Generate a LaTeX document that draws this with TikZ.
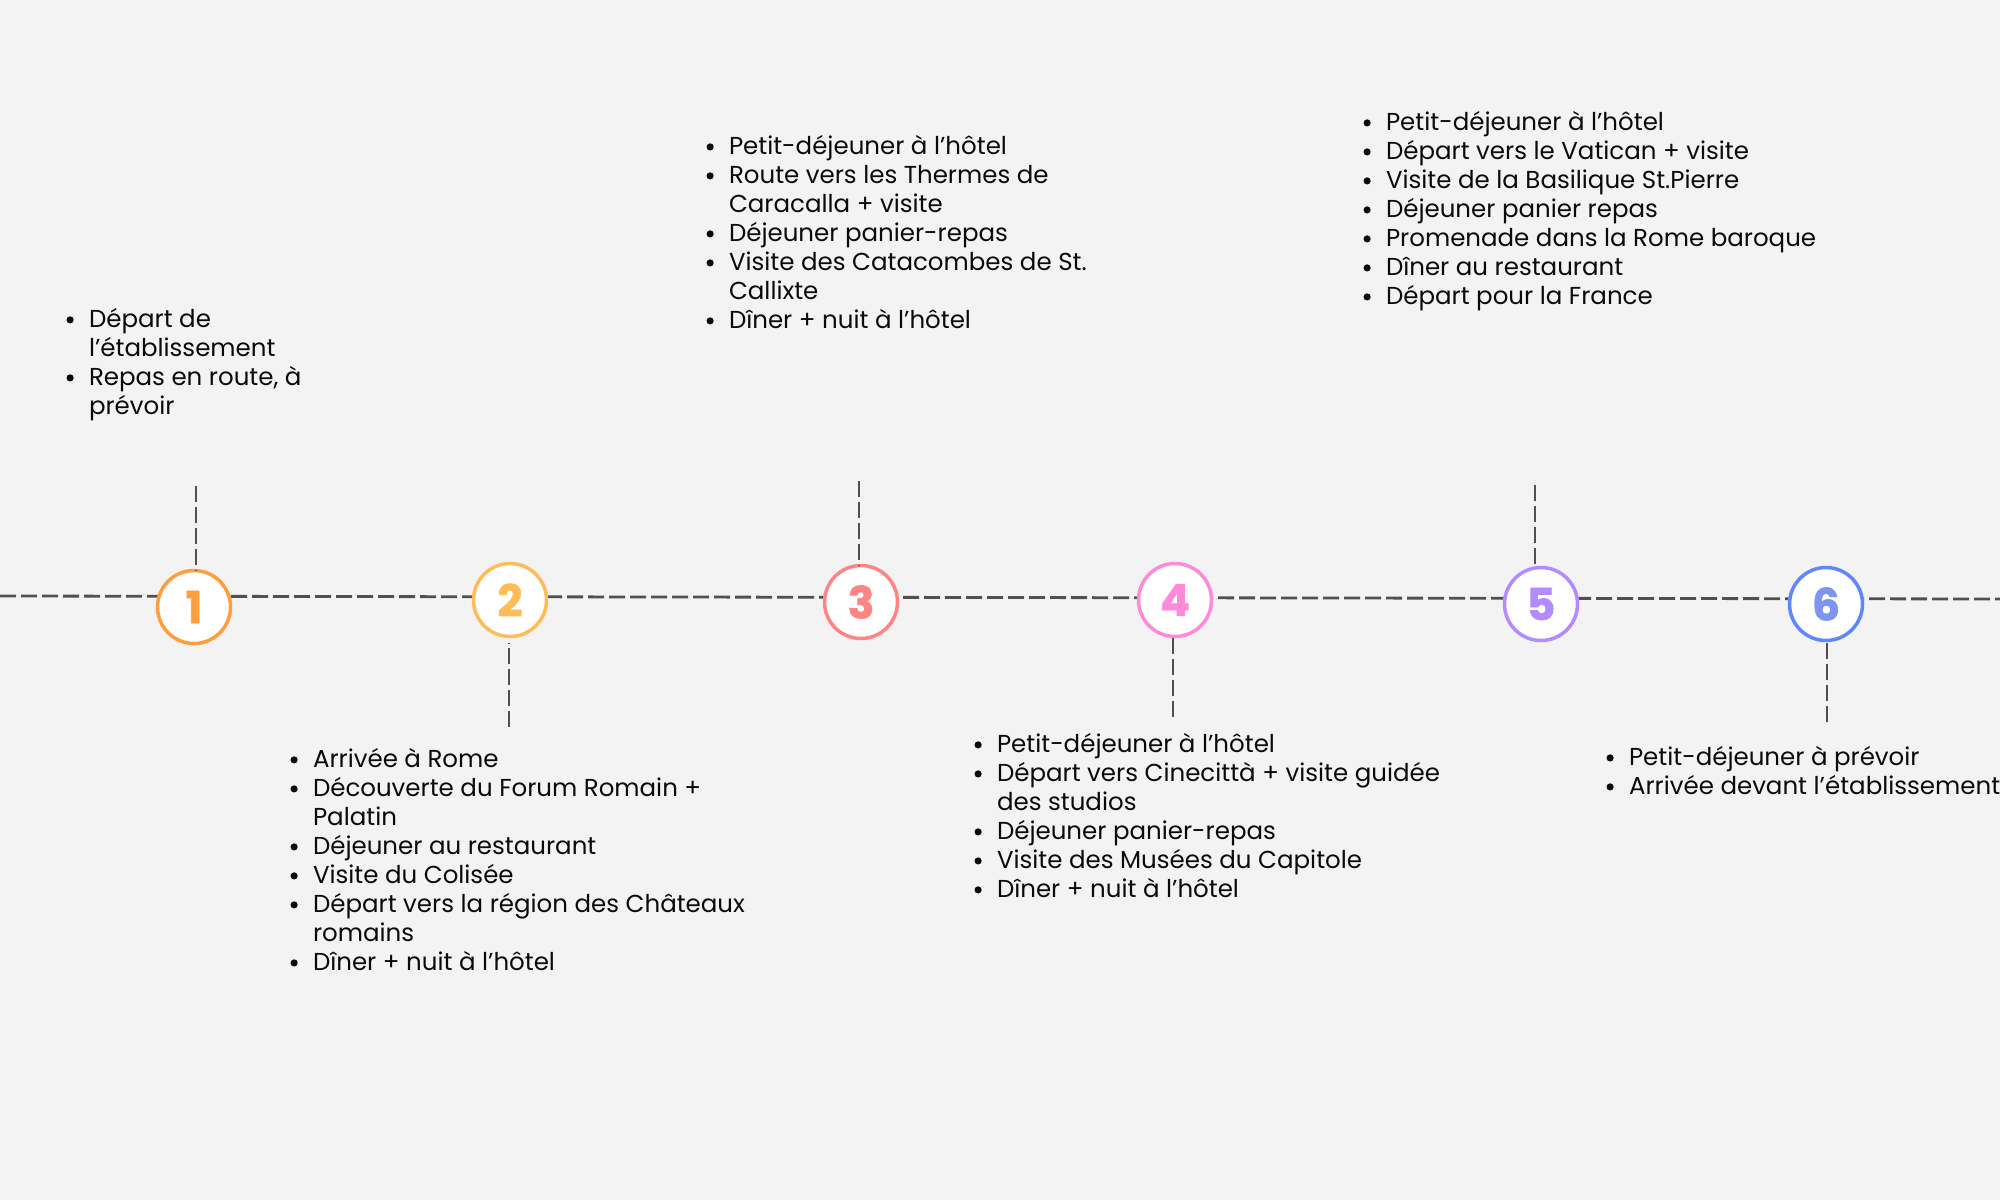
\documentclass[tikz,border=0pt]{standalone}
\usepackage{fontspec}
\setmainfont{Poppins}
\newfontfamily\numfont[BoldFeatures={FakeBold=1.6}]{Poppins}
\usetikzlibrary{calc}
\definecolor{bgc}{HTML}{F3F3F3}
\definecolor{linec}{HTML}{505050}
\definecolor{txtc}{HTML}{0A0A0A}
\definecolor{cA}{HTML}{FF9E3D}
\definecolor{cB}{HTML}{FFBD59}
\definecolor{cC}{HTML}{FF8585}
\definecolor{cD}{HTML}{FF8AD8}
\definecolor{cE}{HTML}{B48AFF}
\definecolor{cF}{HTML}{5E86FF}
\definecolor{cFn}{HTML}{7F95F2}
\newcommand\itemdot{\makebox[23pt][l]{\hspace{0.5pt}\raisebox{3.5pt}{\tikz\fill[txtc] (0pt,0pt) circle (3.6pt);}}}
\newcommand\itemcont{\hspace*{23pt}}
\tikzset{
  dayc/.style={circle, draw=#1, text=#1, fill=white, line width=3.5pt,
    minimum size=73pt, inner sep=0pt, outer sep=0pt,
    font=\fontsize{44}{44}\selectfont\numfont\bfseries},
  conn/.style={draw=linec, line width=2.8pt, dash pattern=on 16pt off 5pt},
  block/.style={anchor=base west, inner sep=0pt, outer sep=0pt, text=txtc,
    font=\fontsize{24.5}{29}\selectfont}
}
\newcommand\blocktext[1]{\parbox[t]{700pt}{\raggedright #1}}
\begin{document}
\begin{tikzpicture}[x=1pt,y=-1pt]
\fill[bgc] (0,0) rectangle (2000,1200);
\useasboundingbox (0,0) rectangle (2000,1200);
% timeline
\coordinate (L) at (0,596);
\coordinate (R) at (2000,599);
\draw[conn] (L) -- (R);
% day circles
\node[dayc=cA] (c1) at (194,607) {1};
\node[dayc=cB] (c2) at (510,600) {2};
\node[dayc=cC] (c3) at (861,602) {3};
\node[dayc=cD] (c4) at (1175,600) {4};
\node[dayc=cE] (c5) at (1541,604) {5};
\node[dayc=cF, text=cFn] (c6) at (1826,604) {6};
% connector ends
\coordinate (t1) at (196,486);
\coordinate (t2) at (509,727);
\coordinate (t3) at (859,481);
\coordinate (t4) at (1173,717);
\coordinate (t5) at (1535,485);
\coordinate (t6) at (1827,722);
\draw[conn] (t1) -- (t1 |- c1.north);
\draw[conn, shorten >=6pt] (t2) -- (t2 |- c2.south);
\draw[conn] (t3) -- (t3 |- c3.north);
\draw[conn] (t4) -- (t4 |- c4.south);
\draw[conn] (t5) -- (t5 |- c5.north);
\draw[conn] (t6) -- (t6 |- c6.south);
% text blocks
\node[block] (b1) at (66,327) {\blocktext{\itemdot Départ de\\
\itemcont l’établissement\\
\itemdot Repas en route, à\\
\itemcont prévoir}};
\node[block] (b2) at (290,767) {\blocktext{\itemdot Arrivée à Rome\\
\itemdot Découverte du Forum Romain +\\
\itemcont Palatin\\
\itemdot Déjeuner au restaurant\\
\itemdot Visite du Colisée\\
\itemdot Départ vers la région des Châteaux\\
\itemcont romains\\
\itemdot Dîner + nuit à l’hôtel}};
\node[block] (b3) at (706,154) {\blocktext{\itemdot Petit-déjeuner à l’hôtel\\
\itemdot Route vers les Thermes de\\
\itemcont Caracalla + visite\\
\itemdot Déjeuner panier-repas\\
\itemdot Visite des Catacombes de St.\\
\itemcont Callixte\\
\itemdot Dîner + nuit à l’hôtel}};
\node[block] (b4) at (974,752) {\blocktext{\itemdot Petit-déjeuner à l’hôtel\\
\itemdot Départ vers Cinecittà + visite guidée\\
\itemcont des studios\\
\itemdot Déjeuner panier-repas\\
\itemdot Visite des Musées du Capitole\\
\itemdot Dîner + nuit à l’hôtel}};
\node[block] (b5) at (1363,130) {\blocktext{\itemdot Petit-déjeuner à l’hôtel\\
\itemdot Départ vers le Vatican + visite\\
\itemdot Visite de la Basilique St.Pierre\\
\itemdot Déjeuner panier repas\\
\itemdot Promenade dans la Rome baroque\\
\itemdot Dîner au restaurant\\
\itemdot Départ pour la France}};
\node[block] (b6) at (1606,765) {\blocktext{\itemdot Petit-déjeuner à prévoir\\
\itemdot Arrivée devant l’établissement}};
\end{tikzpicture}
\end{document}
